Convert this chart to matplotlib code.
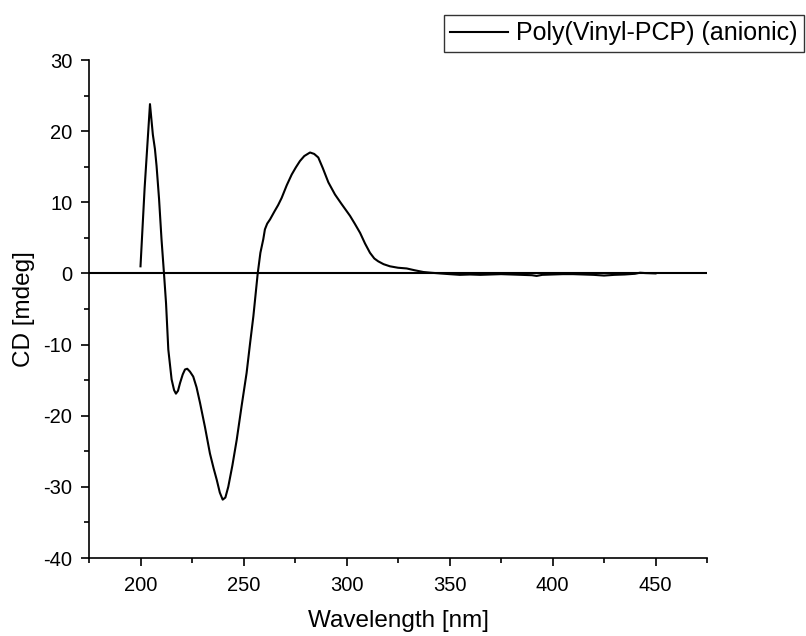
import matplotlib
matplotlib.use("Agg")
import matplotlib.pyplot as plt
from matplotlib.ticker import MultipleLocator

plt.rcParams['font.family'] = ['Liberation Sans', 'DejaVu Sans']
plt.rcParams['axes.unicode_minus'] = False

wavelength = [200, 202, 204.6, 206, 207, 207.8, 209, 210.2, 211.4, 212.4, 213.5,
              215.1, 216.3, 217.2, 218.2, 219.2, 220.5, 221.6, 222.7, 224, 225.6,
              227.2, 228.9, 231.3, 233.7, 235.5, 237.0, 238.5, 239.9, 241.2, 242.6,
              244.6, 246.7, 249.1, 251.5, 253.2, 254.8, 256.9, 258.2, 259.6, 260.4,
              261.5, 262.9, 265.0, 266.8, 268.5, 271.0, 273.4, 275.4, 277.4, 279.5,
              282.3, 284.3, 286.3, 288.5, 291.2, 294.4, 297.5, 301.7, 304.0, 306.6,
              309.0, 311.4, 313.5, 315.4, 318.0, 321.1, 325.0, 329.2, 333.0, 337.3,
              341.0, 345.4, 350, 355, 360, 365, 370, 375, 380, 385, 390, 392.3,
              395, 400, 405, 410, 415, 420, 425, 430, 435, 440, 442.5, 445, 450]
cd = [1.0, 12.0, 23.8, 19.5, 17.5, 15.1, 10.5, 4.8, 0.0, -4.2, -10.7,
      -14.9, -16.4, -16.9, -16.5, -15.4, -14.2, -13.5, -13.4, -13.8, -14.5,
      -16.0, -18.2, -21.6, -25.3, -27.4, -29.0, -30.8, -31.8, -31.5, -30.0,
      -27.0, -23.4, -18.6, -14.0, -9.8, -6.0, 0.0, 2.9, 4.8, 6.2,
      7.0, 7.6, 8.7, 9.6, 10.6, 12.4, 13.9, 14.9, 15.8, 16.5,
      17.0, 16.8, 16.3, 14.8, 12.8, 11.1, 9.8, 8.1, 7.0, 5.7,
      4.2, 2.9, 2.1, 1.7, 1.3, 1.0, 0.8, 0.7, 0.45, 0.2,
      0.1, 0.0, -0.1, -0.2, -0.15, -0.2, -0.15, -0.1, -0.15, -0.2, -0.25, -0.35,
      -0.2, -0.15, -0.1, -0.1, -0.15, -0.2, -0.3, -0.2, -0.15, -0.05, 0.1, 0.05, 0.0]

series_label = "Poly(Vinyl-PCP) (anionic)"
x_label = "Wavelength [nm]"
y_label = "CD [mdeg]"

fig = plt.figure(figsize=(8.06, 6.36), dpi=100)
ax = fig.add_axes([89/806, 1-558/636, 618/806, 498/636])

ax.plot(wavelength, cd, color='black', lw=1.5, label=series_label)
ax.axhline(0, color='black', lw=1.5, zorder=1)

ax.set_xlim(175, 475)
ax.set_ylim(-40, 30)
ax.xaxis.set_major_locator(MultipleLocator(50))
ax.xaxis.set_minor_locator(MultipleLocator(25))
ax.yaxis.set_major_locator(MultipleLocator(10))
ax.yaxis.set_minor_locator(MultipleLocator(5))
ax.set_xticks([200, 250, 300, 350, 400, 450])

for s in ['top', 'right']:
    ax.spines[s].set_visible(False)
for s in ['left', 'bottom']:
    ax.spines[s].set_linewidth(1.2)

ax.tick_params(which='major', direction='out', length=6, width=1.2, labelsize=14.5)
ax.tick_params(axis='x', which='major', pad=7)
ax.tick_params(axis='y', which='major', pad=6)
ax.tick_params(which='minor', direction='out', length=3.5, width=1.2)

ax.set_xlabel(x_label, fontsize=17.5, labelpad=11)
ax.set_ylabel(y_label, fontsize=17.5, labelpad=6)

leg = ax.legend(loc='upper right', bbox_to_anchor=(804/806, 1-15/636),
                bbox_transform=fig.transFigure, fontsize=18, frameon=True,
                fancybox=False, borderpad=0.25, handlelength=2.3,
                handletextpad=0.35, borderaxespad=0)
leg.get_frame().set_edgecolor('black')
leg.get_frame().set_linewidth(1.0)

fig.savefig('out.png', dpi=100)
